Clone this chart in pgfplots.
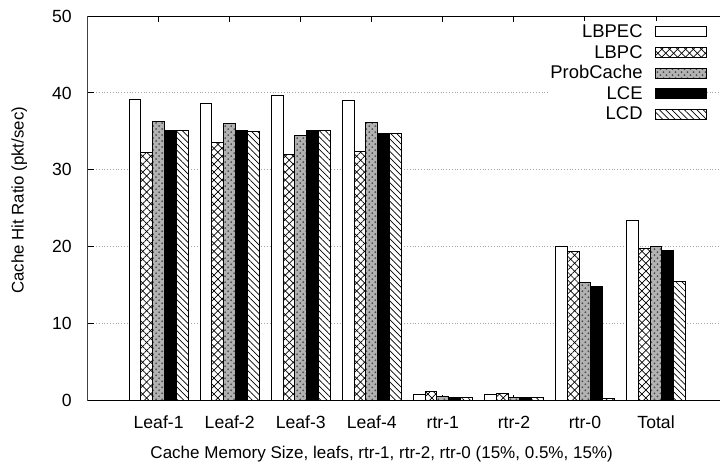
\documentclass[border=0pt]{standalone}
\usepackage{pgfplots}
\pgfplotsset{compat=1.18}
\usepackage{pgfplotstable}
\usepackage{fontspec}
\setmainfont{Liberation Sans}
\usetikzlibrary{patterns,patterns.meta}

\pgfplotstableread{
x LBPEC LBPC ProbCache LCE LCD
1 39.15 32.3 36.3 35.1 35.1
2 38.6 33.5 36.0 35.1 35.0
3 39.65 32.0 34.5 35.1 35.1
4 39.0 32.4 36.1 34.75 34.75
5 0.8 1.15 0.55 0.4 0.4
6 0.8 0.95 0.4 0.4 0.4
7 20.0 19.4 15.4 14.8 0.25
8 23.4 19.75 20.0 19.5 15.5
}\datatable

\begin{document}
\begin{tikzpicture}[font=\fontsize{8.8}{10.5}\selectfont]
\begin{axis}[
  scale only axis,
  width=316pt, height=192.25pt,
  xmin=0, xmax=8.9, ymin=0, ymax=50,
  ybar=0pt, bar width=5.9pt,
  axis x line=box, axis y line=left,
  x axis line style={-, line width=0.5pt},
  y axis line style={-, line width=0.5pt, black!75},
  xtick={1,...,8},
  xticklabels={Leaf-1,Leaf-2,Leaf-3,Leaf-4,rtr-1,rtr-2,rtr-0,Total},
  ytick={0,10,...,50},
  tick align=inside,
  major tick length=3pt,
  tick style={line width=0.5pt, black},
  /pgf/number format/assume math mode=true,
  every x tick label/.style={anchor=base, yshift=-13.6pt, inner sep=0pt},
  every y tick label/.style={anchor=east, xshift=-7.75pt, inner sep=0pt},
  ymajorgrids,
  major grid style={densely dotted, gray!70, line width=0.5pt},
  xlabel={Cache Memory Size, leafs, rtr-1, rtr-2, rtr-0 (15\%, 0.5\%, 15\%)},
  every axis x label/.style={at={([yshift=-28.6pt]axis description cs:0.465,0)}, anchor=base, font=\fontsize{8.5}{10}\selectfont},
  ylabel={Cache Hit Ratio (pkt/sec)},
  every axis y label/.style={at={(axis description cs:-0.108,0.521)}, rotate=90, anchor=center, font=\fontsize{8.4}{10}\selectfont},
  legend plot pos=right,
  legend cell align=right,
  legend style={at={(1,1)}, anchor=north east, xshift=-6.5pt, yshift=-2.2pt,
    draw=none, fill=white, inner sep=0pt, column sep=5pt, row sep=0pt,
    font=\fontsize{9.2}{11}\selectfont,
    nodes={inner sep=1pt, text height=7.3pt, text depth=1.0pt}},
  legend image code/.code={\draw[#1] (0pt,-2.85pt) rectangle (25.5pt,2.15pt);},
]
\addplot[draw=black, line width=0.5pt, fill=white] table[x=x,y=LBPEC] {\datatable};
\addplot[draw=black, line width=0.5pt, preaction={fill=white},
  pattern={Lines[angle=45,distance=2.8pt,line width=0.35pt]},
  postaction={pattern={Lines[angle=-45,distance=2.8pt,line width=0.35pt]}}] table[x=x,y=LBPC] {\datatable};
\addplot[draw=black, line width=0.5pt, preaction={fill=gray!60},
  pattern=crosshatch dots, pattern color=black!70] table[x=x,y=ProbCache] {\datatable};
\addplot[draw=black, line width=0.5pt, fill=black] table[x=x,y=LCE] {\datatable};
\addplot[draw=black, line width=0.5pt, preaction={fill=white},
  pattern={Lines[angle=-45,distance=2.2pt,line width=0.35pt]}] table[x=x,y=LCD] {\datatable};
\legend{LBPEC,LBPC,ProbCache,LCE,LCD}
\coordinate (ll) at (rel axis cs:0,0);
\coordinate (ur) at (rel axis cs:1,1);
\end{axis}
\pgfresetboundingbox
\useasboundingbox ([xshift=-43.75pt,yshift=-32.25pt]ll) rectangle ([yshift=8pt]ur);
\end{tikzpicture}
\end{document}
